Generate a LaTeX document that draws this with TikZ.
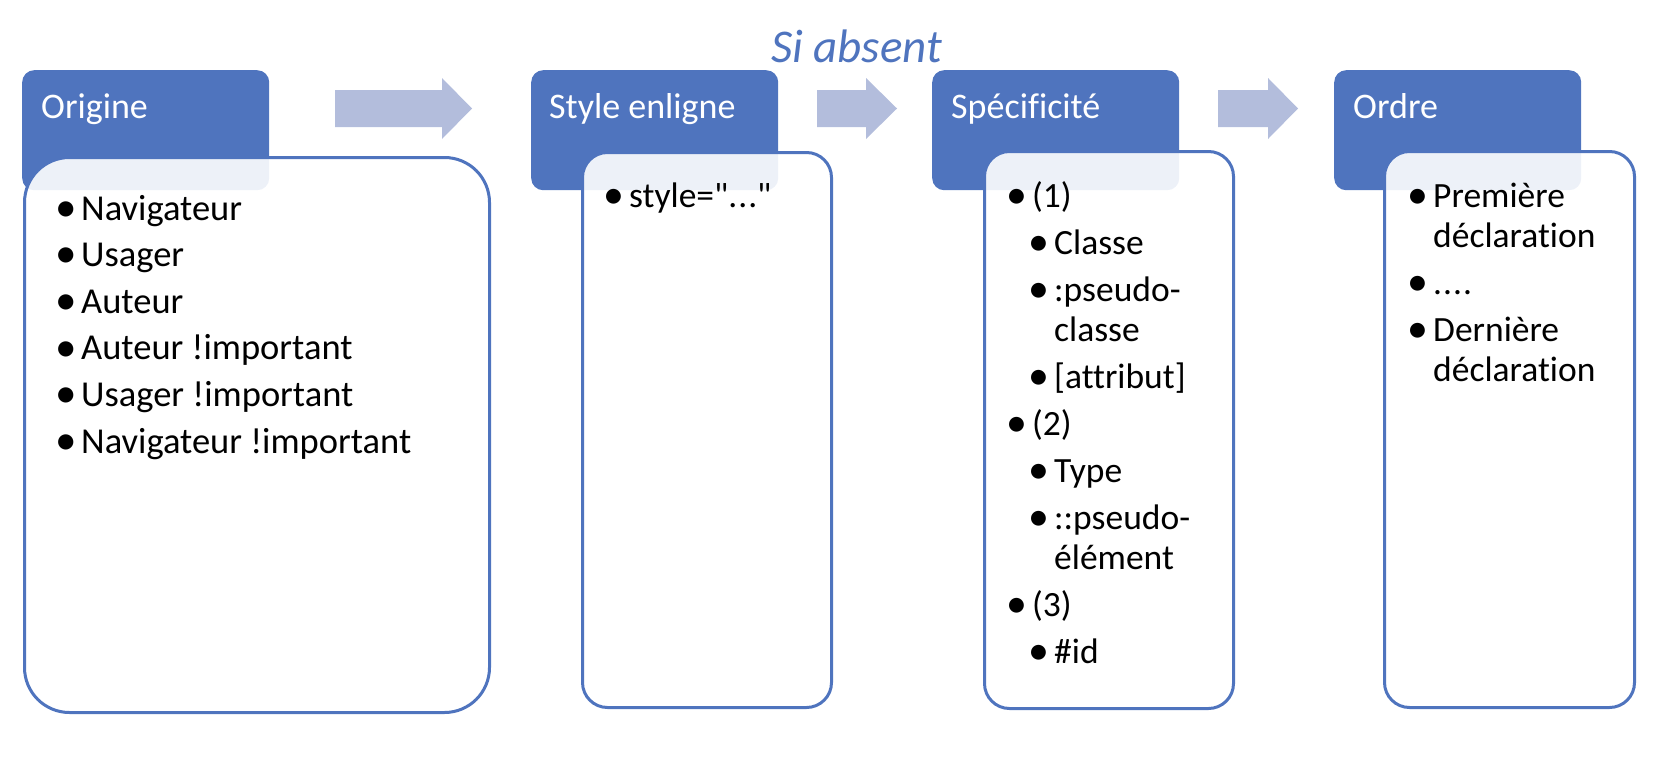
\documentclass[tikz,border=0pt]{standalone}
\usepackage{fontspec}
\newfontfamily\calibri{Carlito}[Ligatures=NoCommon]
\usepackage{graphicx}
\usepackage{tikz}
\definecolor{bleu}{RGB}{79,116,190}
\definecolor{bleupale}{RGB}{179,189,220}
\newcommand{\puce}{\makebox[22pt][l]{\hspace*{-4pt}\raisebox{-1.3pt}{\scalebox{1.18}{\textbullet}}}}
\newcommand{\retrait}{\hspace*{22pt}}
\newcommand{\suite}{\hspace*{22pt}}

\begin{document}
\begin{tikzpicture}[x=1pt, y=-1pt,
    entete/.style={rectangle, rounded corners=12pt, fill=bleu, anchor=north west,
        minimum width=247pt, minimum height=120pt, inner sep=0pt},
    corps/.style={rectangle, rounded corners=25pt, draw=bleu, line width=3pt, fill=white,
        fill opacity=0.9, anchor=north west, inner sep=0pt},
    titre/.style={anchor=base west, inner sep=0pt, text=white, font=\calibri\fontsize{36}{40}\selectfont},
    liste/.style={anchor=base west, inner sep=0pt, font=\calibri\fontsize{35.5}{40}\selectfont},
    fleche/.style={fill=bleupale}]
    \useasboundingbox (0,0) rectangle (1680,768);

    % Origine
    \node[entete] (origine) at (22,70) {};
    \node[corps, rounded corners=45pt, minimum width=465pt, minimum height=555pt] (c-origine) at (23,156) {};
    \node[titre] (t-origine) at (41,118) {Origine};
    \node[liste, font=\calibri\fontsize{36.5}{40}\selectfont] (l-origine) at (59,220) {\begin{tabular}[t]{@{}l@{}}
        \puce Navigateur\\[6.6pt]
        \puce Usager\\[6.6pt]
        \puce Auteur\\[6.6pt]
        \puce Auteur !important\\[6.6pt]
        \puce Usager !important\\[6.6pt]
        \puce Navigateur !important
    \end{tabular}};

    % Style enligne
    \node[entete] (style) at (531,70) {};
    \node[corps, minimum width=249pt, minimum height=555pt] (c-style) at (581,151) {};
    \node[titre] (t-style) at (549,118) {Style enligne};
    \node[liste] (l-style) at (607,207) {\puce style=".\kern1pt.\kern1pt."};

    % Specificite
    \node[entete] (specificite) at (932,70) {};
    \node[corps, minimum width=249pt, minimum height=557pt] (c-specificite) at (983,150) {};
    \node[titre] (t-specificite) at (951,118) {Spécificité};
    \node[liste] (l-specificite) at (1010,207) {\begin{tabular}[t]{@{}l@{}}
        \puce (1)\\[7pt]
        \retrait\puce Classe\\[7pt]
        \retrait\puce :pseudo-\\
        \retrait\suite classe\\[7pt]
        \retrait\puce [attribut]\\[7pt]
        \puce (2)\\[7pt]
        \retrait\puce Type\\[7pt]
        \retrait\puce ::pseudo-\\
        \retrait\suite élément\\[7pt]
        \puce (3)\\[7pt]
        \retrait\puce \#id
    \end{tabular}};

    % Ordre
    \node[entete] (ordre) at (1334,70) {};
    \node[corps, minimum width=250pt, minimum height=556pt] (c-ordre) at (1383,150) {};
    \node[titre] (t-ordre) at (1353,118) {Ordre};
    \node[liste] (l-ordre) at (1411,207) {\begin{tabular}[t]{@{}l@{}}
        \puce Première\\
        \suite déclaration\\[7pt]
        \puce .\kern1pt.\kern1pt.\kern1pt.\\[7pt]
        \puce Dernière\\
        \suite déclaration
    \end{tabular}};

    % Fleches
    \fill[fleche] (335,90) -- (442,90) -- (442,78) -- (472,108.5) -- (442,139) -- (442,127) -- (335,127) -- cycle;
    \fill[fleche] (817,90) -- (866,90) -- (866,78) -- (897,108.5) -- (866,139) -- (866,127) -- (817,127) -- cycle;
    \fill[fleche] (1218,90) -- (1268,90) -- (1268,78) -- (1298,108.5) -- (1268,139) -- (1268,127) -- (1218,127) -- cycle;

    % Si absent
    \node[anchor=base west, inner sep=0pt, text=bleu, font=\calibri\itshape\fontsize{47}{50}\selectfont] (si-absent) at (771,63) {Si absent};
\end{tikzpicture}
\end{document}
